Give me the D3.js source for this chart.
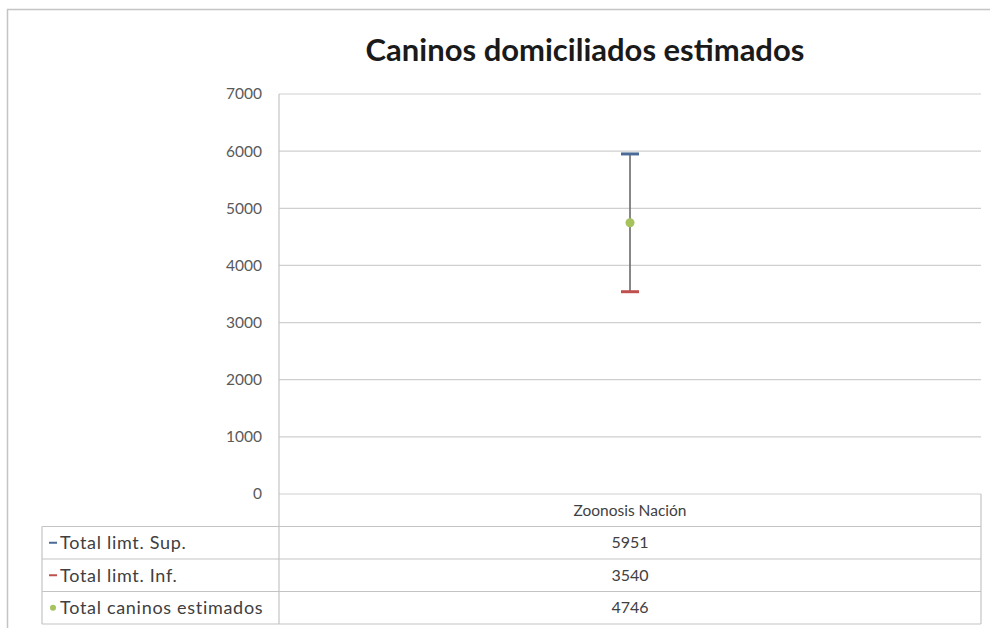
<!DOCTYPE html>
<html>
<head>
<meta charset="utf-8">
<script src="https://cdn.jsdelivr.net/npm/d3@7"></script>
<style>
  body { margin: 0; background: #fff; }
  text { font-family: Lato, "Open Sans", sans-serif; }
</style>
</head>
<body>
<div id="chart"></div>
<script>
// Data
const categories = ["Zoonosis Nación"];
const seriesNames = ["Total limt. Sup.", "Total limt. Inf.", "Total caninos estimados"];
const upperValues = [5951];
const lowerValues = [3540];
const estimateValues = [4746];
const yTicks = [0, 1000, 2000, 3000, 4000, 5000, 6000, 7000];

const width = 990, height = 628;
const margins = { top: 94, right: 9, bottom: 134, left: 279 };
const rowH = 32.5;

const svg = d3.select("#chart")
  .append("svg")
  .attr("width", width)
  .attr("height", height);

// outer frame (top and left edges only, the picture is cropped)
svg.append("path")
  .attr("d", `M7.5,${height} V9.5 H${width}`)
  .attr("fill", "none")
  .attr("stroke", "#c4c4c4")
  .attr("stroke-width", 1.5);

// scales
const x = d3.scaleBand()
  .domain(categories)
  .range([margins.left, width - margins.right]);

const y = d3.scaleLinear()
  .domain([0, 7000])
  .range([height - margins.bottom, margins.top]);

// gridlines
svg.append("g")
  .selectAll("line")
  .data(yTicks)
  .join("line")
    .attr("x1", margins.left)
    .attr("x2", width - margins.right)
    .attr("y1", d => y(d))
    .attr("y2", d => y(d))
    .attr("stroke", "#cfcfcf")
    .attr("stroke-width", 1.2);

// y axis
const yAxis = d3.axisLeft(y).tickValues(yTicks).tickFormat(d3.format("d")).tickSize(0).tickPadding(17);
const gy = svg.append("g")
  .attr("transform", `translate(${margins.left},0)`)
  .call(yAxis);
gy.select(".domain").remove();
gy.selectAll("text")
  .style("font-size", "15.5px")
  .attr("fill", "#595959");

// the vertical line on the left of the plot, continued down through the table
const tableTop = y(0);
const tableBottom = tableTop + rowH * (seriesNames.length + 1);
svg.append("line")
  .attr("x1", margins.left).attr("x2", margins.left)
  .attr("y1", y(7000)).attr("y2", tableBottom)
  .attr("stroke", "#c4c4c4")
  .attr("stroke-width", 1.2);

// error bars
const cx = d => x(d) + x.bandwidth() / 2;
const capW = 9;

svg.append("g")
  .selectAll("line")
  .data(categories)
  .join("line")
    .attr("x1", cx).attr("x2", cx)
    .attr("y1", (d, i) => y(upperValues[i]))
    .attr("y2", (d, i) => y(lowerValues[i]))
    .attr("stroke", "#6a6a6a")
    .attr("stroke-width", 1.6);

svg.append("g")
  .selectAll("line")
  .data(categories)
  .join("line")
    .attr("x1", d => cx(d) - capW).attr("x2", d => cx(d) + capW)
    .attr("y1", (d, i) => y(upperValues[i]))
    .attr("y2", (d, i) => y(upperValues[i]))
    .attr("stroke", "#4a6b96")
    .attr("stroke-width", 3);

svg.append("g")
  .selectAll("line")
  .data(categories)
  .join("line")
    .attr("x1", d => cx(d) - capW).attr("x2", d => cx(d) + capW)
    .attr("y1", (d, i) => y(lowerValues[i]))
    .attr("y2", (d, i) => y(lowerValues[i]))
    .attr("stroke", "#c0504d")
    .attr("stroke-width", 3);

svg.append("g")
  .selectAll("circle")
  .data(categories)
  .join("circle")
    .attr("cx", cx)
    .attr("cy", (d, i) => y(estimateValues[i]))
    .attr("r", 4.5)
    .attr("fill", "#a5c25c");

// title
svg.append("text")
  .attr("x", 585)
  .attr("y", 61)
  .attr("text-anchor", "middle")
  .style("font-size", "31px")
  .style("font-weight", "bold")
  .attr("fill", "#1a1a1a")
  .text("Caninos domiciliados estimados");

// data table
const tableLeft = 42;
const tableRight = width - margins.right;
const table = svg.append("g");

table.append("line")
  .attr("x1", tableRight).attr("x2", tableRight)
  .attr("y1", tableTop).attr("y2", tableBottom)
  .attr("stroke", "#c4c4c4").attr("stroke-width", 1.2);

table.append("line")
  .attr("x1", tableLeft).attr("x2", tableLeft)
  .attr("y1", tableTop + rowH).attr("y2", tableBottom)
  .attr("stroke", "#c4c4c4").attr("stroke-width", 1.2);

[1, 2, 3, 4].forEach(k => {
  table.append("line")
    .attr("x1", tableLeft).attr("x2", tableRight)
    .attr("y1", tableTop + k * rowH).attr("y2", tableTop + k * rowH)
    .attr("stroke", "#c4c4c4").attr("stroke-width", 1.2);
});

// header row (category names)
categories.forEach(cat => {
  table.append("text")
    .attr("x", cx(cat))
    .attr("y", tableTop + rowH / 2)
    .attr("dy", "0.35em")
    .attr("text-anchor", "middle")
    .style("font-size", "15.5px")
    .attr("fill", "#404040")
    .text(cat);
});

const seriesValues = [upperValues, lowerValues, estimateValues];
const seriesColors = ["#4a6b96", "#c0504d", "#a5c25c"];

seriesNames.forEach((name, i) => {
  const rowY = tableTop + rowH * (i + 1) + rowH / 2;
  if (i < 2) {
    table.append("line")
      .attr("x1", tableLeft + 7).attr("x2", tableLeft + 15)
      .attr("y1", rowY).attr("y2", rowY)
      .attr("stroke", seriesColors[i]).attr("stroke-width", 2);
  } else {
    table.append("circle")
      .attr("cx", tableLeft + 11).attr("cy", rowY)
      .attr("r", 3).attr("fill", seriesColors[i]);
  }
  table.append("text")
    .attr("x", tableLeft + 18)
    .attr("y", rowY)
    .attr("dy", "0.35em")
    .style("font-size", "18px")
    .style("letter-spacing", "0.7px")
    .attr("fill", "#404040")
    .text(name);

  categories.forEach((cat, j) => {
    table.append("text")
      .attr("x", cx(cat))
      .attr("y", rowY)
      .attr("dy", "0.35em")
      .attr("text-anchor", "middle")
      .style("font-size", "16px")
      .attr("fill", "#404040")
      .text(seriesValues[i][j]);
  });
});
</script>
</body>
</html>
